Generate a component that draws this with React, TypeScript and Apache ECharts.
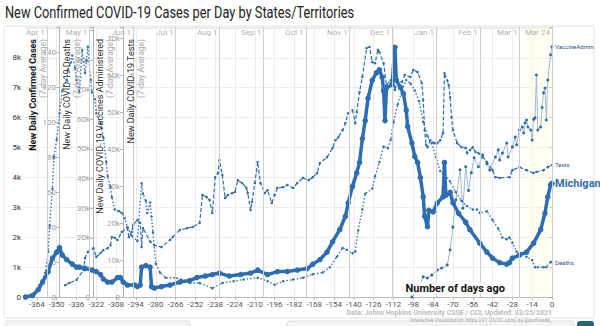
import React, { useEffect, useRef } from 'react';
import * as echarts from 'echarts';

const xTicks = [-364, -350, -336, -322, -308, -294, -280, -266, -252, -238, -224, -210, -196, -182, -168, -154, -140, -126, -112, -98, -84, -70, -56, -42, -28, -14, 0];
const dateLabels = ['Apr 1', 'May 1', 'Jun 1', 'Jul 1', 'Aug 1', 'Sep 1', 'Oct 1', 'Nov 1', 'Dec 1', 'Jan 1', 'Feb 1', 'Mar 1', 'Mar 24'];
const dateDays = [-357, -327, -296, -266, -235, -204, -174, -143, -113, -82, -51, -23, 0];

// [days ago, 7-day average]
const casesData = [
  [-372, 0], [-367, 50], [-363, 250], [-360, 500], [-356, 850], [-353, 1300], [-350, 1500], [-348, 1650],
  [-346, 1400], [-343, 1250], [-339, 1100], [-336, 1000], [-334, 1000], [-330, 950], [-325, 900], [-322, 850],
  [-319, 750], [-317, 600], [-314, 500], [-311, 500], [-307, 650], [-305, 650], [-303, 500], [-300, 400],
  [-295, 400], [-293, 350], [-291, 400], [-290, 1000], [-287, 1050], [-284, 1000], [-283, 350], [-281, 300],
  [-276, 350], [-270, 400], [-263, 500], [-256, 550], [-251, 650], [-245, 700], [-240, 750], [-235, 800],
  [-228, 700], [-220, 750], [-213, 800], [-208, 900], [-201, 750], [-194, 850], [-187, 850], [-180, 900],
  [-173, 950], [-169, 1100], [-164, 1250], [-159, 1500], [-155, 1850], [-150, 2250], [-146, 2700], [-144, 3150],
  [-141, 3700], [-138, 4150], [-136, 4500], [-134, 5300], [-132, 5900], [-130, 6650], [-127, 7250], [-124, 7500],
  [-122, 7600], [-120, 7350], [-119, 6900], [-118, 5900], [-117, 7000], [-113, 7100], [-111, 8350], [-110, 7250],
  [-107, 7000], [-105, 6800], [-103, 6250], [-102, 5700], [-99, 5150], [-97, 4700], [-95, 4500], [-93, 4000],
  [-91, 3350], [-90, 2700], [-88, 2350], [-87, 2900], [-84, 2850], [-81, 3150], [-77, 3350], [-76, 4500],
  [-75, 3400], [-72, 3500], [-70, 3150], [-66, 2800], [-61, 2500], [-58, 2250], [-51, 1800], [-46, 1500],
  [-42, 1300], [-37, 1150], [-32, 1100], [-30, 1150], [-28, 1300], [-23, 1400], [-18, 1500], [-13, 1800],
  [-8, 2250], [-5, 2800], [-3, 3350], [-1, 3750], [0, 3800]
];

const deathsData = [
  [-372, 0], [-366, 2], [-362, 7], [-358, 14], [-356, 26], [-355, 41], [-353, 62], [-352, 80], [-350, 90],
  [-348, 105], [-346, 118], [-343, 124], [-342, 130], [-340, 134], [-339, 138], [-337, 131], [-336, 124],
  [-334, 117], [-332, 141], [-330, 128], [-329, 135], [-328, 143], [-326, 124], [-325, 117], [-323, 113],
  [-322, 105], [-319, 99], [-317, 91], [-315, 77], [-314, 69], [-312, 63], [-311, 57], [-309, 50], [-306, 49],
  [-304, 48], [-302, 45], [-300, 40], [-297, 35], [-293, 32], [-290, 65], [-289, 59], [-287, 55], [-286, 48],
  [-284, 54], [-283, 46], [-282, 37], [-280, 19], [-277, 14], [-273, 11], [-266, 11], [-262, 10], [-256, 8],
  [-249, 8], [-240, 5], [-233, 8], [-225, 9], [-218, 10], [-208, 11], [-201, 9], [-196, 7], [-190, 9],
  [-183, 10], [-176, 11], [-169, 13], [-162, 14], [-157, 17], [-152, 23], [-148, 28], [-145, 27], [-141, 25],
  [-139, 26], [-137, 38], [-134, 50], [-132, 59], [-127, 62], [-125, 69], [-122, 77], [-119, 86], [-116, 85],
  [-114, 90], [-112, 100], [-109, 110], [-106, 118], [-103, 124], [-100, 122], [-97, 118], [-94, 112],
  [-91, 100], [-88, 92], [-85, 88], [-82, 80], [-79, 72], [-76, 70], [-72, 66], [-68, 60], [-64, 55],
  [-60, 52], [-56, 50], [-53, 50], [-51, 48], [-46, 49], [-42, 44], [-38, 39], [-35, 34], [-32, 33],
  [-30, 34], [-28, 31], [-25, 26], [-21, 25], [-18, 23], [-14, 21], [-12, 17], [-10, 17], [-6, 17],
  [-4, 17], [-1, 20], [0, 20]
];

const testsData = [
  [-344, 3200], [-341, 3800], [-336, 4600], [-331, 7300], [-330, 10500], [-328, 12200], [-324, 13200],
  [-322, 10800], [-319, 11900], [-317, 12700], [-314, 13200], [-312, 14000], [-311, 16200], [-309, 16000],
  [-307, 15400], [-304, 17600], [-300, 18600], [-299, 16200], [-297, 17600], [-296, 19500], [-293, 20800],
  [-291, 20000], [-290, 13500], [-289, 18600], [-284, 15000], [-281, 14000], [-276, 13500], [-270, 15400],
  [-268, 16200], [-263, 18100], [-258, 18600], [-254, 18900], [-249, 20000], [-247, 27600], [-244, 27000],
  [-242, 26200], [-240, 22700], [-238, 32400], [-236, 33500], [-235, 37000], [-233, 33000], [-231, 26800],
  [-229, 27600], [-226, 28100], [-224, 28400], [-222, 31600], [-219, 30800], [-216, 29500], [-215, 28100],
  [-213, 23500], [-212, 25700], [-210, 30800], [-208, 36500], [-206, 30800], [-203, 28100], [-201, 28900],
  [-198, 25400], [-196, 27600], [-194, 29500], [-190, 29700], [-187, 30300], [-183, 29500], [-180, 30800],
  [-176, 32200], [-172, 31600], [-169, 32400], [-166, 33500], [-164, 36200], [-159, 37800], [-155, 40300],
  [-153, 42400], [-151, 43200], [-148, 45100], [-146, 47000], [-144, 49700], [-141, 50500], [-139, 47000],
  [-138, 50000], [-136, 55400], [-134, 59500], [-131, 67300], [-129, 67600], [-127, 63500], [-125, 63200],
  [-123, 66800], [-122, 66200], [-119, 63200], [-117, 57300], [-114, 58600], [-112, 58100], [-111, 56000],
  [-109, 58600], [-106, 58100], [-104, 60000], [-100, 59500], [-98, 61400], [-95, 60800], [-92, 57800],
  [-91, 53200], [-90, 45100], [-89, 41100], [-88, 40500], [-86, 42400], [-83, 41600], [-81, 41600],
  [-79, 42400], [-77, 44300], [-76, 60500], [-74, 58600], [-73, 57300], [-72, 54000], [-71, 48600],
  [-70, 45100], [-67, 41600], [-64, 40500], [-61, 40300], [-60, 38900], [-58, 39700], [-56, 40500],
  [-54, 39200], [-52, 38900], [-49, 37800], [-46, 36500], [-42, 34300], [-40, 32400], [-37, 32200],
  [-30, 32400], [-28, 34300], [-23, 35100], [-18, 34300], [-13, 33500], [-11, 33800], [-6, 34300],
  [-3, 35100], [0, 35700]
];

const vaccineData = [
  [-99, 0], [-95, 2400], [-91, 6800], [-88, 6400], [-85, 7400], [-81, 9100], [-78, 9800], [-74, 10800],
  [-72, 15900], [-70, 23600], [-68, 32800], [-65, 43000], [-63, 30000], [-61, 44000], [-59, 36000],
  [-57, 42000], [-55, 47000], [-52, 44000], [-49, 48000], [-46, 45000], [-44, 42900], [-40, 47300],
  [-38, 49700], [-37, 46300], [-35, 48600], [-32, 52000], [-31, 47300], [-28, 50700], [-26, 54000],
  [-25, 51400], [-23, 56400], [-21, 57400], [-20, 55400], [-19, 58800], [-18, 59800], [-17, 57400],
  [-15, 56400], [-14, 53000], [-13, 60000], [-12, 60500], [-11, 75000], [-10, 56400], [-8, 57400],
  [-7, 64000], [-6, 69000], [-5, 70600], [-4, 59800], [-3, 73300], [-1, 81800], [0, 84500]
];

const BLUE = '#2c6db3';
const kFmt = (limit: number) => (v: number) => (v > limit ? '' : v === 0 ? '0' : v >= 1000 ? v / 1000 + 'k' : String(v));

function axisName(x: number, title: string, bold: boolean) {
  return {
    type: 'text',
    x,
    y: 39,
    rotation: Math.PI / 2,
    z: 20,
    style: {
      text: `{a|${title}}\n{b|(7-day Average)}`,
      align: 'right',
      verticalAlign: 'top',
      rich: {
        a: { fontFamily: 'Roboto', fontSize: 9, fontWeight: bold ? 'bold' : 'normal', fill: bold ? '#111' : '#333', lineHeight: 10, align: 'right' },
        b: { fontFamily: 'Roboto', fontSize: 8.5, fill: '#aaa', lineHeight: 10, align: 'right' }
      }
    }
  };
}

export default function App() {
  const ref = useRef<HTMLDivElement>(null);
  useEffect(() => {
    if (!ref.current) return;
    const chart = echarts.init(ref.current, undefined, { renderer: 'svg' });
    const secAxis = (max: number, interval: number, offset: number, limit: number) => ({
      type: 'value', position: 'left', offset, min: 0, max, interval,
      axisLine: { show: true, lineStyle: { color: '#b5b5b5' } },
      axisTick: { show: true, length: 3, lineStyle: { color: '#b5b5b5' } },
      axisLabel: { fontSize: 8, color: '#a0a0a0', margin: 3, fontFamily: 'Roboto', formatter: kFmt(limit) },
      splitLine: { show: false }
    });
    const option: any = {
      animation: false,
      backgroundColor: '#fff',
      grid: { left: 25, right: 48, top: 27, bottom: 29 },
      xAxis: {
        type: 'value', min: -372.4, max: 0,
        axisLine: { lineStyle: { color: '#bbb' } },
        axisTick: { customValues: xTicks, length: 3, lineStyle: { color: '#bbb' } },
        axisLabel: { customValues: xTicks, fontSize: 8, color: '#555', fontFamily: 'Roboto', margin: 3 },
        splitLine: { show: true, lineStyle: { color: '#ececec' } }
      },
      yAxis: [
        {
          type: 'value', position: 'left', min: 0, max: 9030, interval: 1000,
          axisLine: { show: true, lineStyle: { color: '#aaa' } },
          axisTick: { show: true, length: 3, lineStyle: { color: '#aaa' } },
          axisLabel: { fontSize: 8, color: '#333', margin: 4, fontFamily: 'Roboto', formatter: kFmt(8000) },
          splitLine: { show: true, lineStyle: { color: '#ececec' } }
        },
        secAxis(154.3, 20, -34, 140),
        secAxis(91200, 10000, -68, 80000),
        secAxis(73000, 10000, -98, 70000)
      ],
      series: [
        {
          type: 'scatter', yAxisIndex: 0, symbolSize: 0, silent: true,
          data: dateDays.map((d) => [d, 9030]),
          label: {
            show: true, position: 'left', distance: 2, offset: [0, 5], fontSize: 8, color: '#999', fontFamily: 'Roboto',
            formatter: (p: any) => dateLabels[p.dataIndex]
          },
          markLine: {
            silent: true, symbol: 'none', label: { show: false },
            lineStyle: { color: '#cfcfcf', type: 'solid', width: 1 },
            data: dateDays.map((d) => ({ xAxis: d }))
          },
          markArea: {
            silent: true, itemStyle: { color: 'rgba(255,252,225,0.45)' },
            data: [[{ xAxis: -18 }, { xAxis: 0 }]]
          }
        },
        {
          name: 'VaccineAdmin', type: 'line', yAxisIndex: 2, data: vaccineData,
          symbol: 'circle', symbolSize: 3, showSymbol: true,
          lineStyle: { width: 1, color: '#9fb8d8' }, itemStyle: { color: BLUE },
          endLabel: { show: true, formatter: 'VaccineAdmin', fontSize: 6, color: '#1f4f8a', distance: 3, fontFamily: 'Roboto' }
        },
        {
          name: 'Tests', type: 'line', yAxisIndex: 3, data: testsData,
          symbol: 'circle', symbolSize: 2.5,
          lineStyle: { width: 1.2, color: BLUE, type: [4, 2] }, itemStyle: { color: BLUE },
          endLabel: { show: true, formatter: 'Tests', fontSize: 6, color: '#1f4f8a', distance: 3, fontFamily: 'Roboto' }
        },
        {
          name: 'Deaths', type: 'line', yAxisIndex: 1, data: deathsData,
          symbol: 'circle', symbolSize: 2.5,
          lineStyle: { width: 1.3, color: BLUE, type: [1.5, 2] }, itemStyle: { color: BLUE },
          endLabel: { show: true, formatter: 'Deaths', fontSize: 6, color: '#1f4f8a', distance: 3, fontFamily: 'Roboto' }
        },
        {
          name: 'Michigan', type: 'line', yAxisIndex: 0, data: casesData,
          symbol: 'circle', symbolSize: 5.5,
          lineStyle: { width: 3.5, color: BLUE }, itemStyle: { color: BLUE },
          endLabel: { show: true, formatter: 'Michigan', fontSize: 11, fontWeight: 'bold', color: BLUE, distance: 3, fontFamily: 'Roboto' }
        }
      ],
      graphic: [
        { type: 'rect', shape: { x: 4, y: 26, width: 590, height: 292 }, style: { fill: 'none', stroke: '#e3e3e3', lineWidth: 1 }, z: -1, silent: true },
        { type: 'rect', shape: { x: 5, y: 321, width: 185, height: 10, r: 3 }, style: { fill: '#f4f4f4', stroke: '#dcdcdc' }, silent: true },
        { type: 'rect', shape: { x: 287, y: 321, width: 200, height: 10, r: 3 }, style: { fill: '#f4f4f4', stroke: '#dcdcdc' }, silent: true },
        { type: 'rect', shape: { x: 490, y: 321, width: 84, height: 10, r: 3 }, style: { fill: '#f4f4f4', stroke: '#dcdcdc' }, silent: true },
        { type: 'rect', shape: { x: 577, y: 321, width: 17, height: 10, r: 3 }, style: { fill: '#1d6b78' }, silent: true },
        {
          type: 'text', x: 5, y: 13, scaleX: 0.8,
          style: { text: 'New Confirmed COVID-19 Cases per Day by States/Territories', fontFamily: 'Roboto', fontSize: 16, fill: '#222', verticalAlign: 'middle' }
        },
        axisName(28, 'New Daily Confirmed Cases', true),
        axisName(62, 'New Daily COVID-19 Deaths', false),
        axisName(95, 'New Daily COVID-19 Vaccines Administered', false),
        axisName(126, 'New Daily COVID-19 Tests', false),
        {
          type: 'text', x: 505, y: 288, z: 30,
          style: { text: 'Number of days ago', fontFamily: 'Roboto', fontSize: 11, fontWeight: 'bold', fill: '#111', align: 'right', verticalAlign: 'middle', backgroundColor: 'rgba(255,255,255,0.85)' }
        },
        {
          type: 'text', x: 552, y: 313,
          style: { text: 'Data: Johns Hopkins University CSSE / CCI; Updated: 03/25/2021', fontFamily: 'Roboto', fontSize: 7, fontWeight: 'bold', fill: '#bdbdbd', align: 'right', verticalAlign: 'middle' }
        },
        {
          type: 'text', x: 552, y: 320,
          style: { text: 'Interactive Visualization: https://91-DIVOC.com/ by @profwade_', fontFamily: 'Roboto', fontSize: 5, fill: '#aaa', align: 'right', verticalAlign: 'middle' }
        }
      ]
    };
    chart.setOption(option);
    return () => chart.dispose();
  }, []);
  return <div ref={ref} style={{ position: 'fixed', left: 0, top: 0, width: 600, height: 326, background: '#fff' }} />;
}
